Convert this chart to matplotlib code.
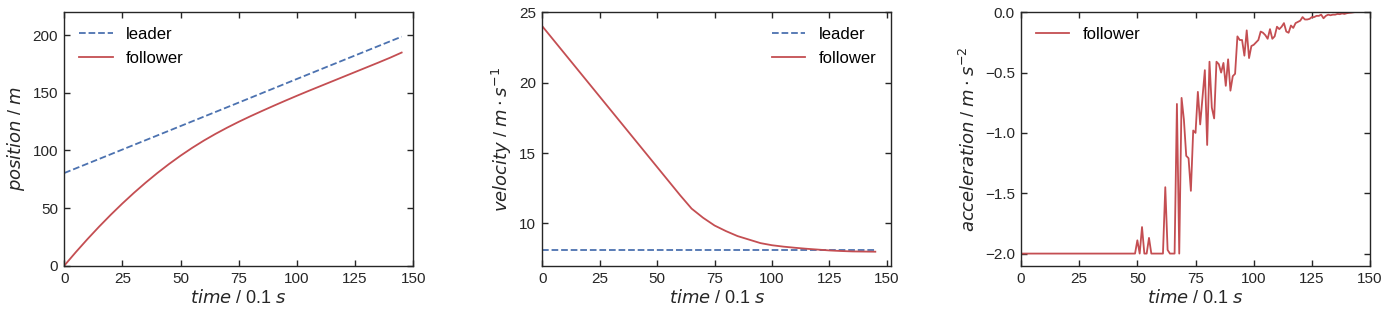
import matplotlib
matplotlib.use("Agg")
import matplotlib.pyplot as plt

plt.rcParams["font.family"] = ["Liberation Sans", "DejaVu Sans"]
plt.rcParams["mathtext.fontset"] = "dejavusans"

LEADER_C = "#4C72B0"
FOLLOW_C = "#C44E52"
INK = "#262626"

# time steps (0.1 s) for the sampled position / velocity curves
t_pos = [0, 5, 10, 15, 20, 25, 30, 35, 40, 45, 50, 55, 60, 65, 70, 75, 80, 85,
         90, 95, 100, 105, 110, 115, 120, 125, 130, 135, 140, 145]
follower_pos = [0.0, 11.8, 23.1, 33.9, 44.2, 54.0, 63.3, 72.1, 80.4, 88.2, 95.5,
                102.3, 108.6, 114.4, 119.8, 124.9, 129.7, 134.3, 138.8, 143.2,
                147.5, 151.7, 155.8, 159.9, 164.0, 168.1, 172.2, 176.3, 180.5, 185.0]
leader_t = [0, 25, 50, 75, 100, 125, 145]
leader_pos = [80.4, 100.8, 121.2, 141.6, 162.1, 182.5, 198.8]

follower_vel = [24.0, 23.0, 22.0, 21.0, 20.0, 19.0, 18.0, 17.0, 16.0, 15.0, 14.0,
                13.0, 12.0, 11.05, 10.4, 9.85, 9.45, 9.1, 8.85, 8.6, 8.45, 8.35,
                8.27, 8.2, 8.14, 8.08, 8.04, 8.01, 8.0, 7.99]
leader_vel_t = [0, 145]
leader_vel = [8.11, 8.11]

# acceleration, one value per step 0..143
follower_acc = [
    -2.0, -2.0, -2.0, -2.0, -2.0, -2.0, -2.0, -2.0, -2.0, -2.0,
    -2.0, -2.0, -2.0, -2.0, -2.0, -2.0, -2.0, -2.0, -2.0, -2.0,
    -2.0, -2.0, -2.0, -2.0, -2.0, -2.0, -2.0, -2.0, -2.0, -2.0,
    -2.0, -2.0, -2.0, -2.0, -2.0, -2.0, -2.0, -2.0, -2.0, -2.0,
    -2.0, -2.0, -2.0, -2.0, -2.0, -2.0, -2.0, -2.0, -2.0, -2.0,
    -1.89, -2.0, -1.78, -2.0, -2.0, -1.87, -2.0, -2.0, -2.0, -2.0,
    -2.0, -2.0, -1.45, -1.97, -2.0, -2.0, -2.0, -0.76, -2.0, -0.71,
    -0.89, -1.19, -1.21, -1.48, -0.98, -1.0, -0.66, -0.93, -0.70, -0.48,
    -1.10, -0.41, -0.79, -0.88, -0.41, -0.43, -0.50, -0.42, -0.61, -0.39,
    -0.65, -0.53, -0.51, -0.20, -0.23, -0.23, -0.36, -0.15, -0.38, -0.28,
    -0.27, -0.25, -0.23, -0.16, -0.17, -0.19, -0.22, -0.14, -0.22, -0.20,
    -0.12, -0.14, -0.12, -0.09, -0.16, -0.17, -0.11, -0.13, -0.09, -0.08,
    -0.07, -0.04, -0.06, -0.06, -0.055, -0.04, -0.04, -0.03, -0.03, -0.02,
    -0.05, -0.03, -0.02, -0.025, -0.02, -0.02, -0.014, -0.016, -0.01, -0.014,
    -0.008, -0.005, -0.003, 0.0,
]
t_acc = list(range(len(follower_acc)))

XLABEL = r"$time$ / 0.1 $s$"


def style(ax):
    ax.tick_params(direction="in", top=True, right=True, length=4, width=1,
                   labelsize=11, colors=INK, pad=4.5)
    for s in ax.spines.values():
        s.set_color(INK)
        s.set_linewidth(1.0)
    ax.set_xlabel(XLABEL, fontsize=13, color=INK, labelpad=2.5)
    ax.set_xticks([0, 25, 50, 75, 100, 125, 150])


fig = plt.figure(figsize=(13.85, 3.14), dpi=100)
w, h, b = 0.252, 0.807, 0.154
ax1 = fig.add_axes([0.0464, b, w, h])
ax2 = fig.add_axes([0.3916, b, w, h])
ax3 = fig.add_axes([0.7372, b, w, h])

ax1.plot(leader_t, leader_pos, color=LEADER_C, ls="--", lw=1.3, label="leader")
ax1.plot(t_pos, follower_pos, color=FOLLOW_C, lw=1.3, label="follower")
ax1.set_xlim(0, 150)
ax1.set_ylim(0, 220)
ax1.set_yticks([0, 50, 100, 150, 200])
ax1.set_ylabel(r"$position$ / $m$", fontsize=13, color=INK)
ax1.legend(frameon=False, fontsize=12, loc="upper left")
style(ax1)

ax2.plot(leader_vel_t, leader_vel, color=LEADER_C, ls="--", lw=1.3, label="leader")
ax2.plot(t_pos, follower_vel, color=FOLLOW_C, lw=1.3, label="follower")
ax2.set_xlim(0, 152)
ax2.set_ylim(7, 25)
ax2.set_yticks([10, 15, 20, 25])
ax2.set_ylabel(r"$velocity$ / $m\cdot s^{-1}$", fontsize=13, color=INK)
ax2.legend(frameon=False, fontsize=12, loc="upper right")
style(ax2)

ax3.plot(t_acc, follower_acc, color=FOLLOW_C, lw=1.3, label="follower")
ax3.set_xlim(0, 150)
ax3.set_ylim(-2.1, 0.0)
ax3.set_yticks([-2.0, -1.5, -1.0, -0.5, 0.0])
ax3.set_ylabel(r"$acceleration$ / $m\cdot s^{-2}$", fontsize=13, color=INK)
ax3.legend(frameon=False, fontsize=12, loc="upper left")
style(ax3)

fig.savefig("out.png", dpi=100)
